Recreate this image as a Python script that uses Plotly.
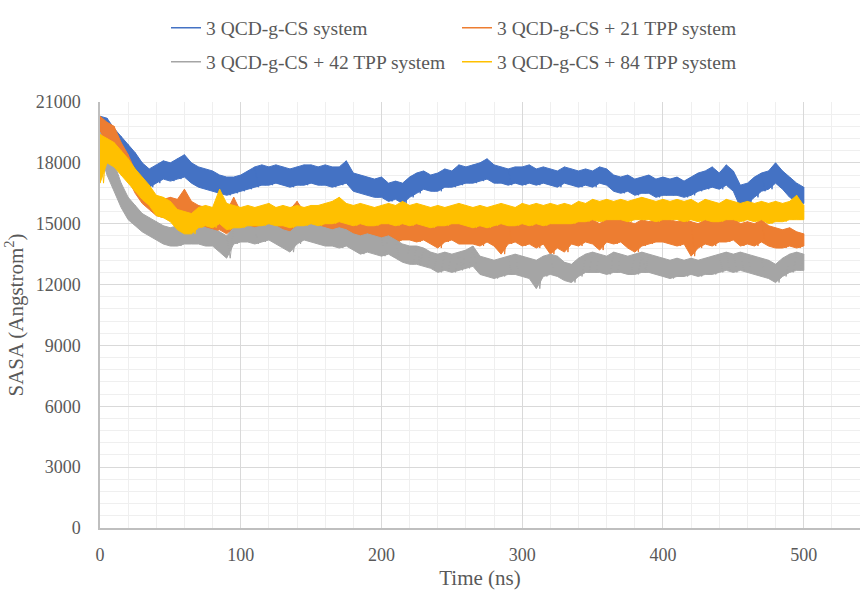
import plotly.graph_objects as go

# Time grid (ns) at which the band envelope was read
time_ns = list(range(0, 501, 5))

# Upper / lower edge of each noisy SASA band (Angstrom^2)
blue_hi = [20300, 20200, 19700, 19300, 18900, 18500, 18000, 17700, 17900, 18100,
           18000, 18200, 18400, 18000, 17800, 17700, 17600, 17400, 17300, 17300,
           17400, 17600, 17800, 17900, 17800, 17900, 17800, 17700, 17800, 17900,
           17900, 17800, 17900, 17800, 17800, 18100, 17500, 17400, 17300, 17200,
           17300, 17000, 17100, 17000, 17300, 17500, 17600, 17400, 17500, 17700,
           17600, 17900, 17800, 17900, 18000, 18200, 17900, 17800, 17700, 17800,
           17800, 17900, 17700, 17800, 17700, 17600, 17800, 17700, 17600, 17700,
           17600, 17800, 17700, 17400, 17300, 17400, 17200, 17300, 17400, 17200,
           17300, 17200, 17300, 17100, 17300, 17500, 17600, 17800, 17500, 17900,
           17600, 16900, 17000, 17300, 17500, 17600, 18000, 17600, 17300, 17000,
           16800]
blue_lo = [19500, 19200, 18700, 18200, 17800, 17400, 17000, 16800, 17000, 17200,
           17100, 17200, 17300, 17000, 16800, 16700, 16600, 16500, 16400, 16500,
           16600, 16700, 16800, 16900, 16900, 17000, 16900, 16800, 16900, 16900,
           17000, 16900, 16900, 16800, 16900, 17000, 16600, 16500, 16400, 16300,
           16300, 16100, 16200, 16000, 16300, 16500, 16700, 16600, 16600, 16800,
           16800, 16900, 17000, 17000, 17100, 17200, 17000, 17000, 16900, 17000,
           16900, 17000, 16900, 17000, 16900, 16800, 17000, 16900, 16800, 16900,
           16800, 17000, 16900, 16600, 16500, 16600, 16400, 16500, 16500, 16300,
           16400, 16400, 16400, 16300, 16400, 16600, 16700, 16800, 16700, 16900,
           16600, 15800, 16000, 16300, 16600, 16700, 17000, 16700, 16300, 16100,
           16000]

orange_hi = [20300, 20000, 19800, 19000, 18400, 17600, 17000, 16800, 16300, 16200,
             16300, 16200, 16700, 16100, 15900, 15800, 15600, 15700, 15600, 16300,
             15600, 15400, 15300, 15300, 15400, 15300, 15400, 15700, 16100, 15600,
             15500, 15400, 15300, 15400, 15300, 15400, 15300, 15200, 15400, 15300,
             15200, 15300, 15100, 15200, 15300, 15200, 15300, 15100, 15200, 15200,
             15300, 15100, 15200, 15200, 15100, 15300, 15200, 15100, 15200, 15300,
             15100, 15200, 15000, 15200, 15100, 15000, 15200, 15200, 15100, 15300,
             15200, 15000, 15300, 15200, 15300, 15100, 15000, 15200, 15100, 15200,
             15300, 15200, 15100, 15200, 15100, 15000, 15200, 15100, 15300, 15200,
             15300, 15000, 15100, 15000, 15200, 14900, 14800, 14700, 14800, 14600,
             14500]
orange_lo = [19300, 19000, 18600, 17800, 17200, 16500, 16000, 15700, 15400, 15300,
             15400, 15200, 15500, 15100, 14900, 14800, 14600, 14700, 14500, 14800,
             14600, 14500, 14400, 14400, 14500, 14400, 14500, 14600, 14800, 14600,
             14500, 14500, 14400, 14500, 14400, 14400, 14300, 14300, 14400, 14200,
             14200, 14300, 14100, 14200, 14200, 14100, 14200, 14000, 13800, 14100,
             14200, 14000, 14000, 14000, 13900, 14100, 13900, 13500, 14000, 14100,
             13900, 14000, 13800, 14000, 13500, 13800, 13600, 14000, 13900, 14100,
             14000, 13700, 14100, 14000, 14100, 13800, 13600, 13900, 14000, 14100,
             14100, 14000, 13900, 14000, 13400, 13800, 14000, 13900, 14100, 14100,
             14200, 13900, 14000, 13900, 14100, 13900, 13800, 13800, 13900, 13800,
             13900]

grey_hi = [19500, 18800, 18000, 17000, 16300, 15900, 15500, 15300, 15100, 14900,
           14800, 14900, 14900, 14800, 14900, 14800, 14700, 14600, 14400, 14800,
           14900, 14900, 14800, 14900, 15000, 14900, 14700, 14600, 14900, 15100,
           15000, 14900, 14800, 14700, 14800, 14700, 14500, 14400, 14500, 14400,
           14300, 14400, 14200, 14000, 13900, 13900, 13800, 13600, 13500, 13600,
           13500, 13600, 13700, 13900, 13400, 13300, 13200, 13300, 13400, 13500,
           13400, 13300, 13200, 13400, 13500, 13400, 13100, 13000, 13300, 13500,
           13600, 13500, 13400, 13600, 13500, 13400, 13500, 13600, 13500, 13400,
           13300, 13200, 13300, 13200, 13300, 13200, 13300, 13400, 13500, 13600,
           13500, 13600, 13500, 13400, 13300, 13200, 13000, 13300, 13500, 13600,
           13500]
grey_lo = [18500, 17400, 16600, 15800, 15200, 14900, 14600, 14400, 14200, 14000,
           13900, 13900, 14000, 14000, 14000, 13900, 13900, 13600, 13300, 14000,
           14100, 14100, 14000, 14100, 14200, 14000, 13800, 13600, 14000, 14200,
           14100, 14000, 13900, 13900, 13800, 13900, 13700, 13500, 13600, 13500,
           13400, 13500, 13300, 13100, 13000, 13000, 12900, 12800, 12600, 12700,
           12600, 12700, 12800, 12900, 12500, 12400, 12300, 12400, 12500, 12500,
           12400, 12300, 11800, 12400, 12500, 12400, 12200, 12100, 12400, 12600,
           12600, 12600, 12500, 12600, 12600, 12500, 12500, 12600, 12600, 12500,
           12400, 12300, 12400, 12400, 12500, 12400, 12500, 12500, 12600, 12700,
           12600, 12700, 12600, 12500, 12400, 12300, 12100, 12400, 12600, 12700,
           12700]

yellow_hi = [19400, 19200, 19000, 18600, 18200, 17700, 17300, 16900, 16400, 16300,
             16100, 15700, 15600, 15500, 15800, 15900, 15800, 16700, 16000, 15900,
             15800, 15900, 15800, 15900, 16000, 15800, 15900, 15800, 15900, 15800,
             15900, 15900, 16000, 16100, 16300, 16000, 15900, 16000, 15900, 15800,
             15900, 16000, 15900, 16100, 15900, 16000, 15900, 15800, 15900, 15800,
             15900, 16000, 15900, 15800, 15900, 15800, 15900, 16000, 15900, 15800,
             16000, 15900, 16000, 15900, 16000, 15900, 16000, 15900, 16100, 16000,
             16200, 16100, 16200, 16100, 16200, 16100, 16200, 16300, 16200, 16100,
             16200, 16100, 16200, 16100, 16200, 16000, 16200, 16100, 16000, 16200,
             16100, 16000, 16100, 16000, 16100, 16000, 16100, 16000, 16100, 16400,
             15900]
yellow_lo = [17000, 18000, 17800, 17400, 17000, 16600, 16200, 15900, 15400, 15300,
             15100, 14700, 14500, 14500, 14800, 14900, 14800, 15000, 14700, 14800,
             14800, 14900, 14900, 14900, 15000, 14900, 14900, 14800, 14900, 14900,
             15000, 14900, 15000, 15000, 15100, 15000, 14900, 15000, 14900, 14900,
             15000, 15000, 14900, 15000, 14900, 15000, 14900, 14800, 14900, 14900,
             15000, 15000, 14900, 14800, 14900, 14800, 14900, 15000, 14900, 14900,
             15000, 14900, 15000, 14900, 15000, 15000, 15000, 15000, 15100, 15100,
             15200, 15100, 15200, 15200, 15200, 15100, 15200, 15200, 15200, 15100,
             15200, 15200, 15200, 15100, 15200, 15100, 15200, 15100, 15100, 15200,
             15200, 15100, 15200, 15100, 15200, 15000, 15100, 15100, 15200, 15200,
             15200]

series_names = ["3 QCD-g-CS system", "3 QCD-g-CS + 21 TPP system",
                "3 QCD-g-CS + 42 TPP system", "3 QCD-g-CS + 84 TPP system"]
series_colors = ["#4472C4", "#ED7D31", "#A5A5A5", "#FFC000"]
series_hi = [blue_hi, orange_hi, grey_hi, yellow_hi]
series_lo = [blue_lo, orange_lo, grey_lo, yellow_lo]
series_legend = ["legend", "legend", "legend2", "legend2"]

FONT = "Liberation Serif"
GREY_TXT = "#595959"

fig = go.Figure()
for name, col, hi, lo, lg in zip(series_names, series_colors, series_hi, series_lo, series_legend):
    # noisy band: upper envelope forward, lower envelope backward, filled
    xs = list(time_ns) + list(reversed(time_ns)) + [time_ns[0]]
    ys = list(hi) + list(reversed(lo)) + [hi[0]]
    fig.add_trace(go.Scatter(x=xs, y=ys, mode="lines", name=name,
                             fill="toself", fillcolor=col, showlegend=False,
                             line=dict(color=col, width=1.0)))
    # jagged trace running across the band
    zx, zy = [], []
    for t, h, l in zip(time_ns, hi, lo):
        zx += [t, min(t + 2.5, 500)]
        zy += [h, l]
    fig.add_trace(go.Scatter(x=zx, y=zy, mode="lines", showlegend=False,
                             line=dict(color=col, width=1.0)))
    # legend entry (line sample only)
    fig.add_trace(go.Scatter(x=[None], y=[None], mode="lines", name=name,
                             line=dict(color=col, width=1.5), legend=lg))

leg_common = dict(orientation="h", xref="container", yref="container",
                  xanchor="left", yanchor="middle", entrywidthmode="pixels",
                  entrywidth=246, bgcolor="rgba(0,0,0,0)",
                  font=dict(family=FONT, size=19.5, color=GREY_TXT), itemclick=False)

fig.update_layout(
    width=861, height=590,
    margin=dict(l=100, r=1, t=102, b=62),
    paper_bgcolor="white", plot_bgcolor="white",
    font=dict(family=FONT, size=18, color=GREY_TXT),
    showlegend=True,
    legend=dict(x=166 / 861, y=1 - 28 / 590, **leg_common),
    legend2=dict(x=166 / 861, y=1 - 62 / 590, **leg_common),
    xaxis=dict(range=[0, 540], dtick=100, tick0=0, showgrid=True, gridcolor="#d9d9d9",
               gridwidth=1, showline=True, linecolor="#bfbfbf", linewidth=1.5,
               zeroline=False, ticks="", ticklabelstandoff=10,
               tickfont=dict(family=FONT, size=18, color=GREY_TXT),
               minor=dict(dtick=20, tick0=0, showgrid=True, gridcolor="#efefef", gridwidth=1),
               title=dict(text="Time (ns)", font=dict(family=FONT, size=21, color=GREY_TXT),
                          standoff=8)),
    yaxis=dict(range=[0, 21000], dtick=3000, tick0=0, tickformat="d", showgrid=True,
               gridcolor="#d9d9d9",
               gridwidth=1, showline=True, linecolor="#bfbfbf", linewidth=1.5,
               zeroline=False, ticks="", ticklabelstandoff=14,
               tickfont=dict(family=FONT, size=18, color=GREY_TXT),
               minor=dict(dtick=600, tick0=0, showgrid=True, gridcolor="#efefef", gridwidth=1),
               title=dict(text="SASA (Angstrom<sup>2</sup>)",
                          font=dict(family=FONT, size=21, color=GREY_TXT), standoff=6)),
)

fig.write_html("out.html")
